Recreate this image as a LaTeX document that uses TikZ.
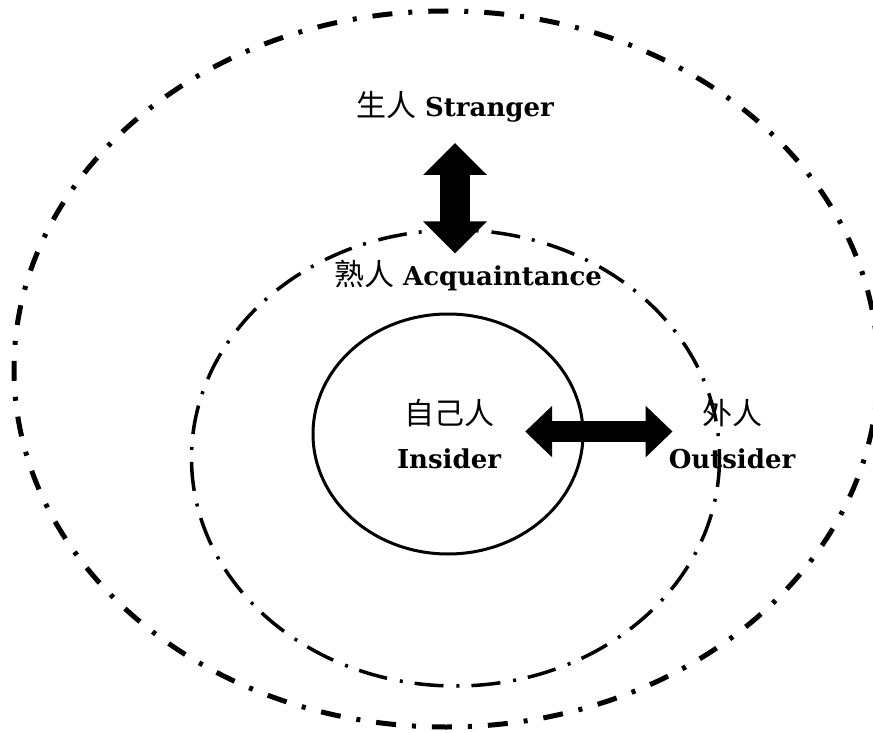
\documentclass[tikz,border=0pt]{standalone}
\usepackage{fontspec}
\setmainfont{DejaVu Serif}
\newfontfamily\cjk{Noto Sans CJK SC}
\usetikzlibrary{arrows.meta}
\definecolor{Ink}{HTML}{000000}
\newcommand{\cjktext}[1]{{\cjk\mdseries\fontsize{30}{44}\selectfont #1}}
\tikzset{
  every node/.style={text=Ink},
  ringlabel/.style={font=\bfseries\fontsize{26}{44}\selectfont, inner sep=0pt, align=center},
  outerring/.style={draw=Ink, line width=5pt, dash pattern=on 20pt off 16pt on 4pt off 16pt},
  middlering/.style={draw=Ink, line width=3.5pt, dash pattern=on 29pt off 12pt on 3pt off 13pt},
  innerring/.style={draw=Ink, line width=3pt},
  updown/.style={{Triangle[length=32pt,width=62pt]}-{Triangle[length=32pt,width=62pt]}, draw=Ink, fill=Ink, line width=30pt},
  leftright/.style={{Triangle[length=27pt,width=50pt]}-{Triangle[length=27pt,width=50pt]}, draw=Ink, fill=Ink, line width=21pt},
}

\begin{document}
\begin{tikzpicture}[x=1pt,y=-1pt]
  \useasboundingbox (0,0) rectangle (873,733);
  \clip (0,0) rectangle (873,733);

  % Three nested circles of closeness.
  \draw[outerring] (446,369) ellipse [x radius=432, y radius=358];
  \draw[middlering] (455.5,458) ellipse [x radius=264, y radius=228];
  \draw[innerring] (448,434) ellipse [x radius=135, y radius=120];

  % Labels of the circles.
  \node[ringlabel, anchor=base] (stranger) at (455,117)
    {\cjktext{生人} Stranger};
  \node[ringlabel, anchor=base] (acquaintance) at (468,285)
    {\cjktext{熟人} Acquaintance};
  \node[ringlabel, anchor=base] (insider) at (449,468)
    {\cjktext{自己人}\\Insider};
  \node[ringlabel, anchor=base] (outsider) at (732,468)
    {\cjktext{外人}\\Outsider};

  % Movement between the circles.
  \draw[updown, shorten <=20pt, shorten >=6pt]
    (stranger.south) -- (stranger.south |- acquaintance.north);
  \draw[leftright, shorten <=24pt, shorten >=-4pt]
    ([yshift=2pt]insider.east) -- ([yshift=2pt]insider.east -| outsider.west);
\end{tikzpicture}
\end{document}
